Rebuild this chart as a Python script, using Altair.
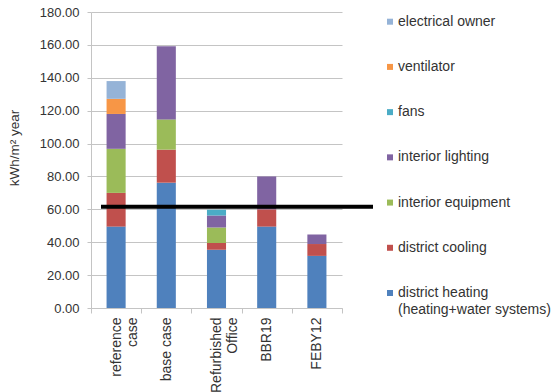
import altair as alt
import pandas as pd

# Buildings compared (x axis)
cases = ["reference case", "base case", "Refurbished Office", "BBR19", "FEBY12"]

# End uses, bottom of the stack first
uses = [
    "district heating",
    "district cooling",
    "interior equipment",
    "interior lighting",
    "fans",
    "ventilator",
    "electrical owner",
]
use_labels = {
    "district heating": "district heating\n(heating+water systems)",
}
colors = ["#4F81BD", "#C0504D", "#9BBB59", "#8064A2", "#4BACC6", "#F79646", "#95B3D7"]

# kWh/m² year per end use, in the order of `cases`
district_heating = [49.5, 76.2, 35.4, 49.5, 31.7]
district_cooling = [20.5, 20.1, 4.1, 10.5, 7.2]
interior_equipment = [26.8, 18.4, 9.4, 0.0, 0.0]
interior_lighting = [21.2, 44.5, 7.3, 20.0, 5.8]
fans = [0.0, 0.0, 3.5, 0.0, 0.0]
ventilator = [9.2, 0.0, 0.0, 0.0, 0.0]
electrical_owner = [10.8, 0.0, 0.0, 0.0, 0.0]

# Requirement level drawn as a heavy horizontal line
limit_value = [61.5]

# Y axis tick values
y_ticks = [0, 20, 40, 60, 80, 100, 120, 140, 160, 180]

series = [
    district_heating,
    district_cooling,
    interior_equipment,
    interior_lighting,
    fans,
    ventilator,
    electrical_owner,
]

rows = []
for k, (use, vals) in enumerate(zip(uses, series)):
    for case, v in zip(cases, vals):
        if v > 0:
            rows.append({"case": case, "use": use, "value": v, "stack_idx": k})
df = pd.DataFrame(rows)

legend_order = list(reversed(uses))
legend_df = pd.DataFrame(
    {"use": legend_order, "label": [use_labels.get(u, u) for u in legend_order]}
)

FONT = "Liberation Sans"
TEXT = "#333333"
GRID = "#c4c4c4"

color = alt.Color("use:N", scale=alt.Scale(domain=uses, range=colors), legend=None)

# two-line category labels, second line centred under the first
x_label_expr = (
    "datum.label == 'reference case' ? ['reference', 'case\u00a0\u00a0\u00a0\u00a0'] : "
    "datum.label == 'Refurbished Office' ? ['Refurbished', 'Office\u00a0\u00a0\u00a0\u00a0\u00a0'] : "
    "datum.label"
)

y_scale = alt.Scale(domain=[0, 180], nice=False)
y_axis = alt.Axis(
    title="kWh/m² year",
    values=y_ticks,
    format=".2f",
    labelFont=FONT,
    labelFontSize=13,
    labelColor=TEXT,
    labelPadding=8,
    tickSize=4,
    tickColor=GRID,
    domainColor=GRID,
    gridColor=GRID,
    titleFont=FONT,
    titleFontSize=13.5,
    titleFontWeight="normal",
    titleColor=TEXT,
    titleX=-73,
    titleY=135.5,
    titleBaseline="alphabetic",
)

bars = (
    alt.Chart(df)
    .mark_bar(width=alt.RelativeBandSize(0.38))
    .encode(
        x=alt.X(
            "case:N",
            sort=cases,
            scale=alt.Scale(paddingInner=0, paddingOuter=0),
            axis=alt.Axis(
                title=None,
                labelAngle=-90,
                labelExpr=x_label_expr,
                labelFont=FONT,
                labelFontSize=14,
                labelColor=TEXT,
                labelLineHeight=16,
                labelPadding=4,
                tickBand="extent",
                tickSize=5,
                tickColor=GRID,
                domainColor=GRID,
                grid=False,
            ),
        ),
        y=alt.Y("value:Q", stack="zero", scale=y_scale, axis=y_axis),
        color=color,
        order=alt.Order("stack_idx:Q", sort="ascending"),
    )
)

limit_rule = (
    alt.Chart(pd.DataFrame({"value": limit_value}))
    .mark_rule(color="black", strokeWidth=4)
    .encode(
        y=alt.Y("value:Q", scale=y_scale, axis=y_axis),
        x=alt.value(10),
        x2=alt.value(282),
    )
)

plot = alt.layer(bars, limit_rule)

legend_y = alt.Y(
    "use:N",
    sort=legend_order,
    scale=alt.Scale(range=[9.7, 281], padding=0),
    axis=None,
)

legend_marks = (
    alt.Chart(legend_df)
    .mark_square(size=36, opacity=1)
    .encode(x=alt.value(299), y=legend_y, color=color)
)

legend_text = (
    alt.Chart(legend_df)
    .mark_text(
        align="left",
        baseline="top",
        dy=-7,
        lineBreak="\n",
        lineHeight=17,
        font=FONT,
        fontSize=14,
        color=TEXT,
    )
    .encode(x=alt.value(307), y=legend_y, text="label:N")
)

legend = alt.layer(legend_marks, legend_text)

chart = (
    alt.layer(plot, legend)
    .resolve_scale(y="independent")
    .properties(
        width=251,
        height=296,
        padding={"left": 91, "top": 12, "right": 209, "bottom": 84},
        autosize=alt.AutoSizeParams(type="none"),
        background="white",
    )
    .configure_view(stroke=None)
)

chart.save("out.html", embed_options={"renderer": "svg", "actions": False})
